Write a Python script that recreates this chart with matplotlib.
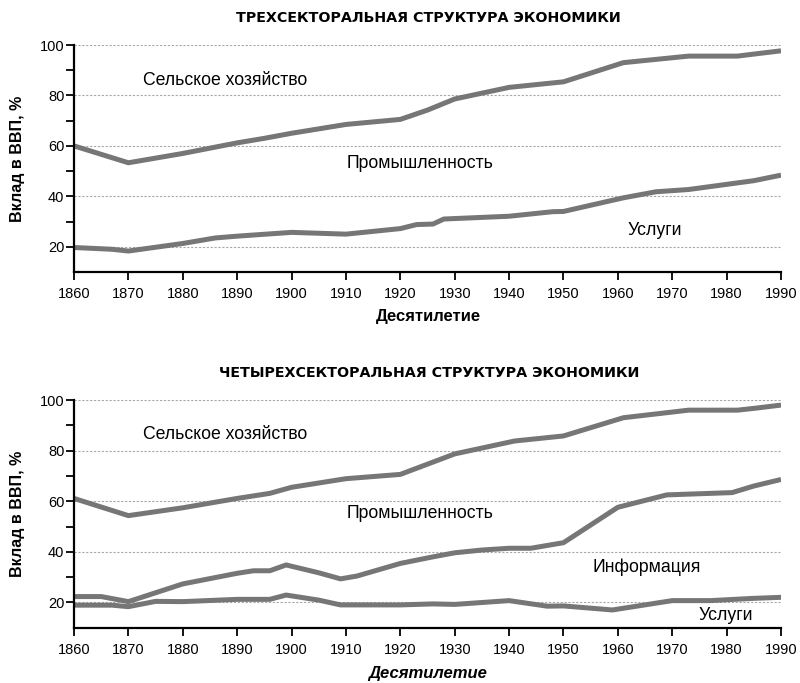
import numpy as np
import matplotlib.pyplot as plt

plt.rcParams['font.family'] = ['Liberation Sans', 'DejaVu Sans']

# --- трехсекторальная структура ---
top_agr_years = [1860, 1870, 1880, 1890, 1895, 1900, 1910, 1920, 1925, 1930,
                 1940, 1950, 1961, 1973, 1982, 1985, 1990]
top_agr_vals = [60, 53.3, 57, 61.2, 63, 65, 68.5, 70.5, 74.2, 78.6,
                83.2, 85.4, 93, 95.6, 95.6, 96.4, 97.7]

top_ind_years = [1860, 1867, 1870, 1880, 1886, 1890, 1900, 1910, 1920, 1923,
                 1926, 1928, 1940, 1948, 1950, 1961, 1967, 1973, 1985, 1990]
top_ind_vals = [19.7, 19.0, 18.3, 21.3, 23.5, 24.2, 25.7, 25.0, 27.2, 28.8,
                29.0, 31.0, 32.1, 33.9, 34.0, 39.4, 41.8, 42.7, 46.2, 48.4]

# --- четырехсекторальная структура ---
bot_agr_years = [1860, 1870, 1880, 1890, 1896, 1900, 1910, 1920, 1930, 1941,
                 1950, 1961, 1973, 1982, 1985, 1990]
bot_agr_vals = [61.1, 54.3, 57.4, 61.1, 63.1, 65.5, 68.9, 70.6, 78.7, 83.8,
                85.8, 93, 96, 96, 96.7, 98]

bot_ind_years = [1860, 1865, 1870, 1880, 1890, 1893, 1896, 1899, 1905, 1909,
                 1912, 1920, 1926, 1930, 1935, 1940, 1944, 1950, 1960, 1969,
                 1981, 1985, 1990]
bot_ind_vals = [22.3, 22.3, 20.3, 27.3, 31.5, 32.5, 32.5, 34.8, 31.7, 29.3,
                30.4, 35.4, 38.0, 39.6, 40.7, 41.4, 41.4, 43.6, 57.6, 62.5,
                63.4, 66.0, 68.6]

bot_inf_years = [1860, 1867, 1870, 1875, 1880, 1890, 1896, 1899, 1905, 1909,
                 1920, 1926, 1930, 1940, 1947, 1950, 1959, 1970, 1977, 1985,
                 1990]
bot_inf_vals = [18.9, 18.9, 18.3, 20.4, 20.3, 21.2, 21.2, 22.9, 20.9, 19.0,
                19.0, 19.4, 19.2, 20.7, 18.5, 18.6, 17.0, 20.7, 20.7, 21.6,
                22.0]

titles = ['ТРЕХСЕКТОРАЛЬНАЯ СТРУКТУРА ЭКОНОМИКИ',
          'ЧЕТЫРЕХСЕКТОРАЛЬНАЯ СТРУКТУРА ЭКОНОМИКИ']
top_labels = [('Сельское хозяйство', 1887.7, 86.1),
              ('Промышленность', 1923.6, 53.0),
              ('Услуги', 1966.8, 26.6)]
bot_labels = [('Сельское хозяйство', 1887.7, 86.2),
              ('Промышленность', 1923.6, 55.2),
              ('Информация', 1965.3, 33.9),
              ('Услуги', 1979.9, 15.0)]

line_color = '#767676'

fig = plt.figure(figsize=(8, 6.83), dpi=100)
ax1 = fig.add_axes([0.0925, 0.6018, 0.8838, 0.3323])
ax2 = fig.add_axes([0.0925, 0.0810, 0.8838, 0.3333])


def style_axes(ax):
    ax.set_xlim(1860, 1990)
    ax.set_ylim(10, 100)
    ax.set_xticks(np.arange(1860, 1991, 10))
    ax.set_yticks([20, 40, 60, 80, 100])
    ax.set_yticks([30, 50, 70, 90], minor=True)
    ax.spines['top'].set_visible(False)
    ax.spines['right'].set_visible(False)
    ax.spines['left'].set_linewidth(1.6)
    ax.spines['bottom'].set_linewidth(1.6)
    ax.tick_params(axis='both', which='both', direction='out', length=6,
                   width=1.3, labelsize=10.5)
    ax.tick_params(axis='y', pad=1)
    ax.tick_params(axis='x', pad=5)
    ax.grid(axis='y', which='major', color='#a8a8a8', lw=0.8,
            ls=(0, (2, 1.5)))
    ax.set_axisbelow(True)


for ax in (ax1, ax2):
    style_axes(ax)

ax1.plot(top_agr_years, top_agr_vals, color=line_color, lw=3.6,
         solid_capstyle='butt')
ax1.plot(top_ind_years, top_ind_vals, color=line_color, lw=3.6,
         solid_capstyle='butt')
for txt, x, y in top_labels:
    ax1.text(x, y, txt, ha='center', va='center', fontsize=12.7)

ax2.plot(bot_agr_years, bot_agr_vals, color=line_color, lw=3.6,
         solid_capstyle='butt')
ax2.plot(bot_ind_years, bot_ind_vals, color=line_color, lw=3.6,
         solid_capstyle='butt')
ax2.plot(bot_inf_years, bot_inf_vals, color=line_color, lw=3.6,
         solid_capstyle='butt')
for txt, x, y in bot_labels:
    ax2.text(x, y, txt, ha='center', va='center', fontsize=12.7)

fig.text(0.536, 0.9736, titles[0], ha='center', va='center',
         fontsize=10.3, fontweight='bold', family='DejaVu Sans')
fig.text(0.536, 0.454, titles[1], ha='center', va='center',
         fontsize=10.3, fontweight='bold', family='DejaVu Sans')

fig.text(0.0225, 0.768, 'Вклад в ВВП, %', rotation=90, ha='center',
         va='center', fontsize=11.5, fontweight='bold')
fig.text(0.0225, 0.2476, 'Вклад в ВВП, %', rotation=90, ha='center',
         va='center', fontsize=11.5, fontweight='bold')

fig.text(0.535, 0.536, 'Десятилетие', ha='center', va='center',
         fontsize=12, fontweight='bold')
fig.text(0.535, 0.0146, 'Десятилетие', ha='center', va='center',
         fontsize=12, fontweight='bold', style='italic')

fig.savefig('out.png', dpi=100)
